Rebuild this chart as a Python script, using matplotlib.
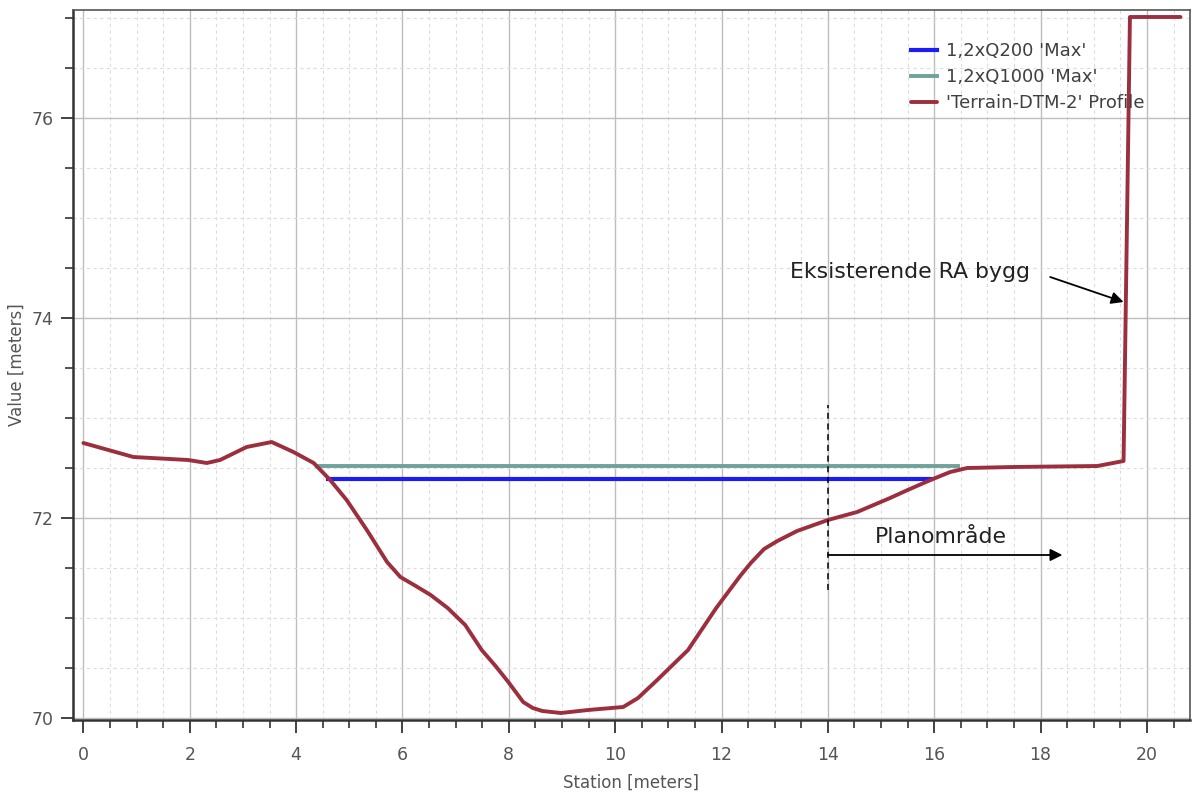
import matplotlib
matplotlib.use("Agg")
import matplotlib.pyplot as plt
from matplotlib.ticker import MultipleLocator

# ---- data ----
station = [0.0, 0.94, 1.97, 2.32, 2.57, 3.07, 3.54, 3.95, 4.33, 4.64, 4.95, 5.33,
           5.71, 5.96, 6.25, 6.53, 6.85, 7.18, 7.49, 7.75, 7.99, 8.27, 8.45, 8.63,
           8.98, 9.49, 10.15, 10.43, 10.79, 11.37, 11.9, 12.35, 12.55, 12.8, 13.05,
           13.42, 14.0, 14.55, 15.17, 15.5, 15.93, 16.3, 16.62, 17.49, 19.07, 19.56,
           19.68, 20.63]
terrain = [72.75, 72.61, 72.58, 72.55, 72.58, 72.71, 72.76, 72.66, 72.55, 72.38,
           72.18, 71.88, 71.56, 71.41, 71.32, 71.23, 71.1, 70.93, 70.68, 70.52,
           70.36, 70.16, 70.1, 70.07, 70.05, 70.08, 70.11, 70.2, 70.38, 70.68,
           71.1, 71.42, 71.55, 71.69, 71.77, 71.87, 71.98, 72.06, 72.2, 72.28,
           72.38, 72.46, 72.5, 72.51, 72.52, 72.57, 77.01, 77.01]
q200_station = [4.6, 15.93]
q200_level = [72.39, 72.39]
q1000_station = [4.39, 16.45]
q1000_level = [72.52, 72.52]

labels = ["1,2xQ200 'Max'", "1,2xQ1000 'Max'", "'Terrain-DTM-2' Profile"]

plt.rcParams['font.family'] = ['DejaVu Sans']

W, H = 1198, 799
fig = plt.figure(figsize=(W / 100, H / 100), dpi=100)
ax = fig.add_axes([73.3 / W, 1 - 720 / H, (1189.5 - 73.3) / W, (720 - 10) / H])

ax.set_xlim(-0.19, 20.8)
ax.set_ylim(69.98, 77.08)

ax.xaxis.set_major_locator(MultipleLocator(2))
ax.xaxis.set_minor_locator(MultipleLocator(0.5))
ax.yaxis.set_major_locator(MultipleLocator(2))
ax.yaxis.set_minor_locator(MultipleLocator(0.5))

ax.grid(which='major', color='#bdbdbd', lw=1.0, ls='-', zorder=0)
ax.grid(which='minor', color='#dcdcdc', lw=0.8, ls=(0, (3, 3)), zorder=0)
ax.set_axisbelow(True)

for s in ax.spines.values():
    s.set_color('#555555')
    s.set_linewidth(1.2)
ax.spines['left'].set_linewidth(1.8)
ax.spines['bottom'].set_linewidth(1.8)
ax.spines['left'].set_color('#333333')
ax.spines['bottom'].set_color('#333333')

ax.tick_params(which='major', length=9, width=1.3, color='#333333',
               labelsize=12.5, labelcolor='#555555')
ax.tick_params(which='minor', length=5.5, width=1.2, color='#333333')
ax.tick_params(axis='x', which='major', pad=10)
ax.tick_params(axis='y', which='major', pad=5)

l1, = ax.plot(q200_station, q200_level, color='#1c1cf5', lw=3.0, zorder=3)
l2, = ax.plot(q1000_station, q1000_level, color='#6fa29b', lw=2.8, zorder=2)
l3, = ax.plot(station, terrain, color='#9c2f3e', lw=2.8, zorder=4,
              solid_joinstyle='round', solid_capstyle='round')

ax.set_xlabel('Station [meters]', fontsize=12, color='#555555', labelpad=7)
ax.set_ylabel('Value [meters]', fontsize=12, color='#555555', labelpad=4)

leg = ax.legend([l1, l2, l3], labels, loc='upper left',
                bbox_to_anchor=(911 / W, 1 - 42 / H), bbox_transform=fig.transFigure,
                frameon=False, fontsize=13, handlelength=1.45, handletextpad=0.5,
                labelspacing=0.45, borderpad=0, borderaxespad=0)
for t in leg.get_texts():
    t.set_color('#404040')

# annotations
ax.text(13.29, 74.46, 'Eksisterende RA bygg', fontsize=15.8, color='#222222',
        va='center', ha='left')
ax.annotate('', xy=(19.56, 74.16), xytext=(18.18, 74.41),
            arrowprops=dict(arrowstyle='-|>', color='black', lw=1.3,
                            mutation_scale=18, shrinkA=0, shrinkB=0))
ax.plot([14, 14], [71.28, 73.13], color='black', lw=1.1, ls=(0, (4, 3)), zorder=5)
ax.annotate('', xy=(18.41, 71.63), xytext=(14.0, 71.63),
            arrowprops=dict(arrowstyle='-|>', color='black', lw=1.3,
                            mutation_scale=18, shrinkA=0, shrinkB=0))
ax.text(14.89, 71.81, 'Planområde', fontsize=15.8, color='#222222',
        va='center', ha='left')

fig.savefig('out.png', dpi=100)
